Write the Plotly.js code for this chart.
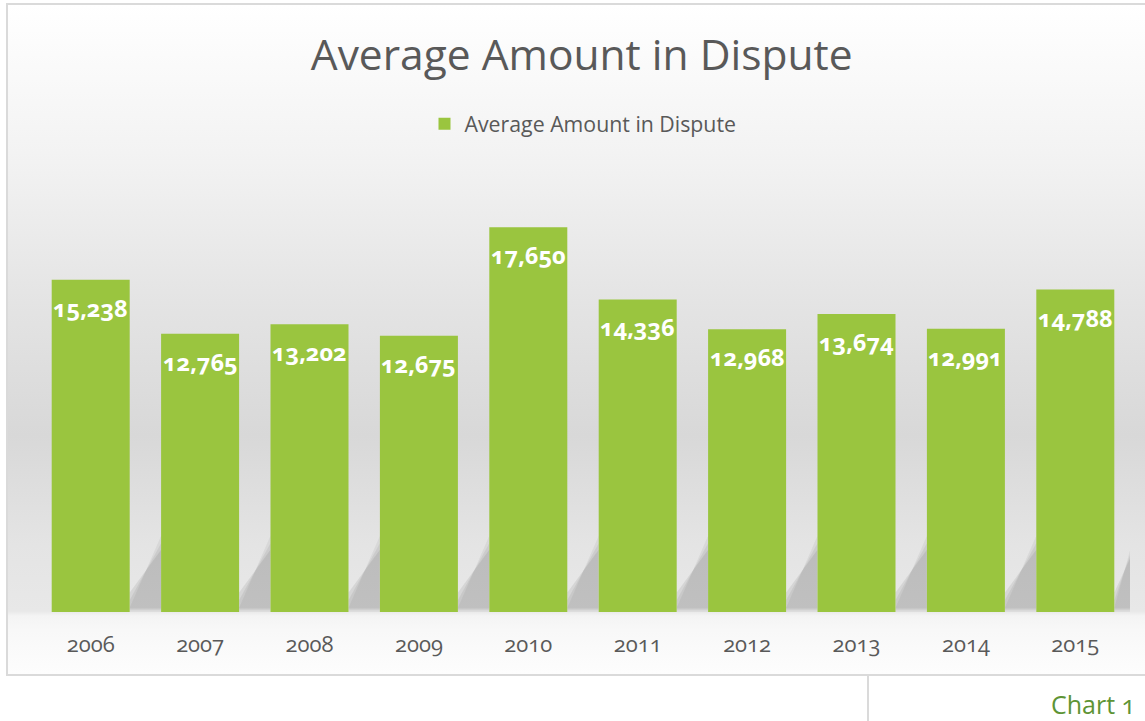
<!DOCTYPE html>
<html>
<head>
<meta charset="utf-8">
<script src="https://cdn.plot.ly/plotly-3.0.1.min.js"></script>
<style>
  html, body { margin: 0; padding: 0; width: 1145px; height: 721px; overflow: hidden; background: #ffffff; }
  #bg {
    position: absolute; left: 6px; top: 3px; width: 1160px; height: 669px;
    border: 2px solid #dadada;
    background: linear-gradient(to bottom, #ffffff 0px, #f3f3f3 147px, #e4e4e4 297px, #d8d8d8 430px, #e4e4e4 540px, #e8e8e8 606px, #f4f4f4 611px, #f8f8f8 625px, #fdfdfd 669px);
  }
  #vline { position: absolute; left: 867px; top: 676px; width: 2px; height: 45px; background: #dadada; }
  #chart { position: absolute; left: 0; top: 0; width: 1145px; height: 721px; }
  .annotation-text, .xtick text { font-variant-numeric: oldstyle-nums; font-feature-settings: "onum" 1; }
</style>
</head>
<body>
<div id="bg"></div>
<div id="vline"></div>
<div id="chart"></div>
<script>
// ---- data ----
const years = ['2006', '2007', '2008', '2009', '2010', '2011', '2012', '2013', '2014', '2015'];
const amounts = [15238, 12765, 13202, 12675, 17650, 14336, 12968, 13674, 12991, 14788];
const labels = ['15,238', '12,765', '13,202', '12,675', '17,650', '14,336', '12,968', '13,674', '12,991', '14,788'];
const seriesName = 'Average Amount in Dispute';
const chartTitle = 'Average Amount in Dispute';
const caption = 'Chart 1';

const FONT = '"Open Sans", "Noto Sans", sans-serif';
const BAR_GAP = 0.287;
const half = (1 - BAR_GAP) / 2;

// soft perspective shadows behind the bars (decoration)
const shapes = [];
years.forEach((y, i) => {
  const xr = i + half;
  const gapW = (i < years.length - 1) ? (1 - 2 * half) : 0.18;
  const layers = [
    [0, 200, 3500, 'rgba(0,0,0,0.05)'],
    [80, 550, 3150, 'rgba(0,0,0,0.06)'],
    [160, 900, 2850, 'rgba(0,0,0,0.07)']
  ];
  layers.forEach(([b, yl, yr, c]) => {
    shapes.push({
      type: 'path', xref: 'x', yref: 'y', layer: 'below',
      path: `M ${xr} ${b} L ${xr} ${yl} L ${xr + gapW} ${yr} L ${xr + gapW} ${b} Z`,
      fillcolor: c, line: {width: 0}
    });
  });
});

const annotations = years.map((y, i) => ({
  x: i, y: amounts[i], xref: 'x', yref: 'y',
  text: labels[i], showarrow: false,
  yanchor: 'middle', xanchor: 'center', yshift: -28,
  font: {family: FONT, size: 23.5, color: '#ffffff', weight: 700}
}));

annotations.push({
  xref: 'paper', yref: 'paper', x: (1137 - 36) / 1094, y: (612 - 704) / 436,
  xanchor: 'right', yanchor: 'middle', showarrow: false,
  text: caption, font: {family: FONT, size: 25, color: '#5e9435'}
});

const trace = {
  type: 'bar', x: years, y: amounts, name: seriesName,
  marker: {color: '#9ac53f', line: {width: 0}},
  hoverinfo: 'x+y', showlegend: true
};

const layout = {
  width: 1145, height: 721,
  margin: {l: 36, r: 15, t: 176, b: 109, pad: 0},
  paper_bgcolor: 'rgba(0,0,0,0)', plot_bgcolor: 'rgba(0,0,0,0)',
  bargap: BAR_GAP,
  title: {
    text: chartTitle, x: 0.508, xanchor: 'center', xref: 'container',
    y: 1 - 55 / 721, yanchor: 'middle', yref: 'container',
    font: {family: FONT, size: 42.5, color: '#595959'}
  },
  showlegend: true,
  legend: {
    orientation: 'h', x: 0.5, xanchor: 'center', y: (612 - 124) / 436, yanchor: 'middle',
    font: {family: FONT, size: 21.3, color: '#595959'}, bgcolor: 'rgba(0,0,0,0)'
  },
  xaxis: {
    type: 'category', range: [-0.5, 9.5], showgrid: false, zeroline: false, showline: false,
    ticks: '', ticklabelstandoff: 17,
    tickfont: {family: FONT, size: 22, color: '#595959'}
  },
  yaxis: {
    range: [0, 20000], showgrid: false, zeroline: false, showline: false,
    showticklabels: false, ticks: ''
  },
  shapes: shapes,
  annotations: annotations
};

Plotly.newPlot('chart', [trace], layout, {displayModeBar: false, staticPlot: true});
</script>
</body>
</html>
